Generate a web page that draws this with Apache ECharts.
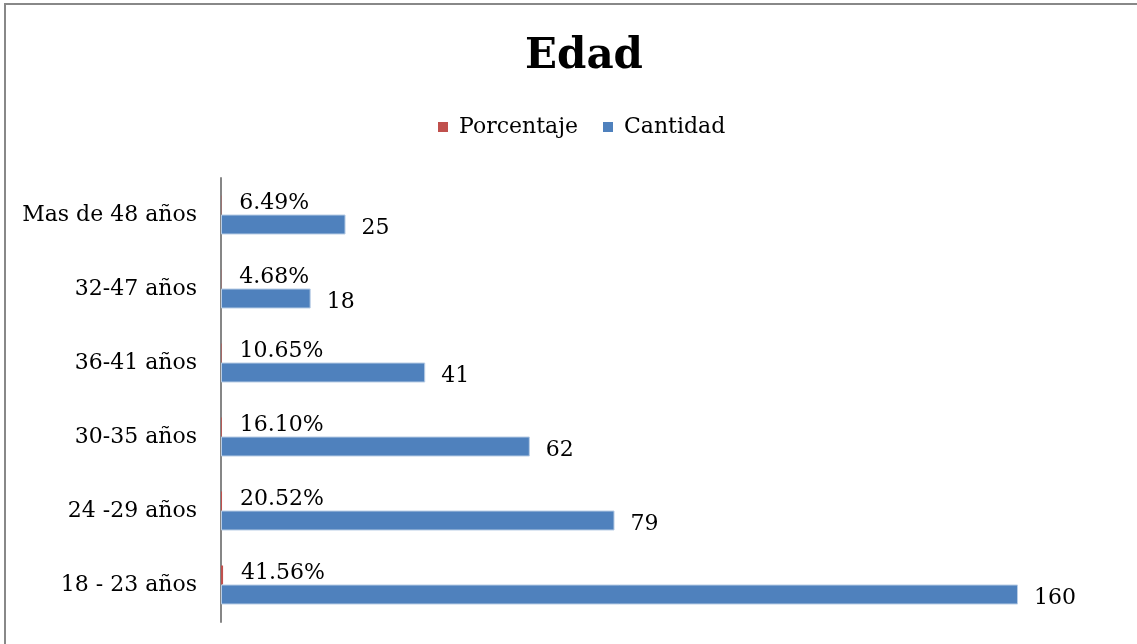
<!DOCTYPE html>
<html style="height: 100%" lang="es">
<head>
    <meta charset="UTF-8">
    <title>Edad</title>
</head>
<body style="height: 100%; margin: 0">
<div id="main1" style="width: 1137px; height: 644px"></div>

<script src="https://cdn.jsdelivr.net/npm/echarts@6/dist/echarts.min.js"></script>
<script type="text/javascript">

    // categorias de abajo hacia arriba
    var categorias = ['18 - 23 años', '24 -29 años', '30-35 años', '36-41 años', '32-47 años', 'Mas de 48 años'];
    var cantidad = [160, 79, 62, 41, 18, 25];
    var porcentaje = [0.4156, 0.2052, 0.1610, 0.1065, 0.0468, 0.0649];

    var fuente = 'DejaVu Serif';

    var myChart1 = echarts.init(document.getElementById('main1'));

    var option1 = {
        backgroundColor: '#ffffff',
        animation: false,
        title: {
            text: 'Edad',
            left: 520,
            top: 31,
            textStyle: {
                fontFamily: fuente,
                fontSize: 42,
                fontWeight: 'bold',
                color: '#000000'
            }
        },
        legend: {
            data: ['Porcentaje', 'Cantidad'],
            top: 111,
            left: 433,
            itemWidth: 10,
            itemHeight: 10,
            itemGap: 25,
            icon: 'rect',
            itemStyle: {borderWidth: 0},
            textStyle: {
                fontFamily: fuente,
                fontSize: 22,
                color: '#000000',
                padding: [0, 0, 0, 6]
            }
        },
        graphic: [{
            type: 'rect',
            shape: {x: 5, y: 4, width: 1200, height: 700},
            style: {fill: 'none', stroke: '#888888', lineWidth: 2},
            silent: true
        }],
        grid: {
            left: 221,
            right: 119,
            top: 178,
            bottom: 22,
            containLabel: false
        },
        xAxis: {
            type: 'value',
            min: 0,
            max: 160,
            show: false
        },
        yAxis: {
            type: 'category',
            data: categorias,
            axisLine: {show: true, lineStyle: {color: '#868686', width: 2}},
            axisTick: {show: false},
            axisLabel: {
                fontFamily: fuente,
                fontSize: 22,
                color: '#000000',
                margin: 24
            }
        },
        series: [
            {
                name: 'Porcentaje',
                type: 'bar',
                data: porcentaje,
                barWidth: 19,
                barGap: '0%',
                itemStyle: {color: '#C0504D'},
                label: {
                    show: true,
                    position: 'right',
                    distance: 18,
                    offset: [0, -2],
                    fontFamily: fuente,
                    fontSize: 22,
                    color: '#000000',
                    formatter: function (p) {
                        return (p.value * 100).toFixed(2) + '%';
                    }
                }
            },
            {
                name: 'Cantidad',
                type: 'bar',
                data: cantidad,
                barWidth: 20,
                barGap: '0%',
                itemStyle: {color: '#4F81BD', borderColor: '#B9CDE5', borderWidth: 1},
                label: {
                    show: true,
                    position: 'right',
                    distance: 16,
                    offset: [0, 4],
                    fontFamily: fuente,
                    fontSize: 22,
                    color: '#000000'
                }
            }
        ]
    };

    myChart1.setOption(option1);

</script>
</body>
</html>
